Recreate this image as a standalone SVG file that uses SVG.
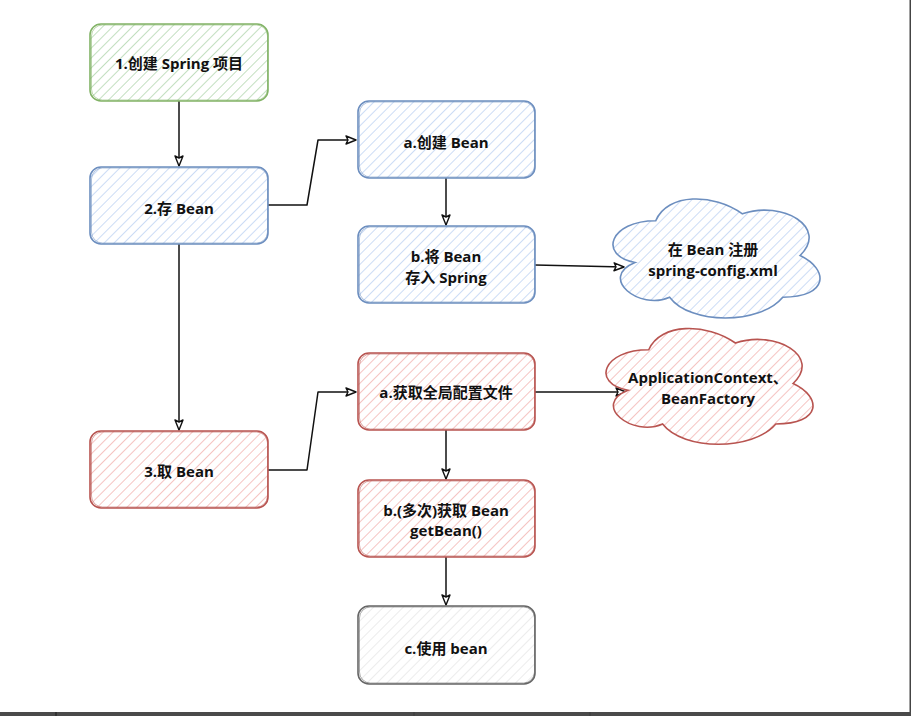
<svg xmlns="http://www.w3.org/2000/svg" width="911" height="716" viewBox="0 0 911 716">
<style>
.t{font-family:"Open Sans","Noto Sans CJK SC",sans-serif;font-weight:bold;font-size:15px;fill:#111;text-anchor:middle}
.box{stroke-width:1.6}
.g{stroke:#82b366;fill:url(#hg)}
.b{stroke:#6c8ebf;fill:url(#hb)}
.r{stroke:#b85450;fill:url(#hr)}
.k{stroke:#666666;fill:url(#hk)}
.ol{fill:none;stroke-width:1;opacity:.55}
.c{fill:none;stroke:#111;stroke-width:1.5;stroke-linejoin:round;marker-end:url(#arr)}
</style>
<defs>
<pattern id="hg" width="7" height="7" patternUnits="userSpaceOnUse" patternTransform="rotate(45)"><rect width="7" height="7" fill="#fff"/><line x1="0" y1="0" x2="0" y2="7" stroke="#c3dfc0" stroke-width="2"/></pattern>
<pattern id="hb" width="7" height="7" patternUnits="userSpaceOnUse" patternTransform="rotate(45)"><rect width="7" height="7" fill="#fff"/><line x1="0" y1="0" x2="0" y2="7" stroke="#ccdcf5" stroke-width="2"/></pattern>
<pattern id="hr" width="7" height="7" patternUnits="userSpaceOnUse" patternTransform="rotate(45)"><rect width="7" height="7" fill="#fff"/><line x1="0" y1="0" x2="0" y2="7" stroke="#f5c4c2" stroke-width="2"/></pattern>
<pattern id="hk" width="7" height="7" patternUnits="userSpaceOnUse" patternTransform="rotate(45)"><rect width="7" height="7" fill="#fff"/><line x1="0" y1="0" x2="0" y2="7" stroke="#ececec" stroke-width="2"/></pattern>
<marker id="arr" viewBox="0 0 12 10" refX="11" refY="5" markerWidth="12" markerHeight="10" markerUnits="userSpaceOnUse" orient="auto">
<path d="M1,1 L11,5 L1,9 L3,5 Z" fill="#fff" stroke="#111" stroke-width="1.4" stroke-linejoin="round"/>
</marker>
</defs>
<rect width="911" height="716" fill="#fff"/>

<g id="connectors">
<path class="c" d="M179,101 L179,166"/>
<path class="c" d="M268,205 L307,205 L318,140 L356,140"/>
<path class="c" d="M446,178 L446,225"/>
<path class="c" d="M535,265 L624,267"/>
<path class="c" d="M179,244 L179,430"/>
<path class="c" d="M268,470 L307,470 L318,392 L356,392"/>
<path class="c" d="M535,392 L626,392"/>
<path class="c" d="M446,430 L446,479"/>
<path class="c" d="M446,557 L446,605"/>
</g>

<g id="n1">
<rect class="box g" x="90" y="24" width="178" height="77" rx="11"/>
<rect class="ol" stroke="#82b366" x="91.5" y="25" width="176" height="75" rx="11"/>
<text class="t" x="179" y="69">1.创建 Spring 项目</text>
</g>
<g id="n2">
<rect class="box b" x="90" y="167" width="178" height="77" rx="11"/>
<rect class="ol" stroke="#6c8ebf" x="91.5" y="168" width="176" height="75" rx="11"/>
<text class="t" x="179" y="214">2.存 Bean</text>
</g>
<g id="n2a">
<rect class="box b" x="358" y="101" width="177" height="77" rx="11"/>
<rect class="ol" stroke="#6c8ebf" x="359.5" y="102" width="175" height="75" rx="11"/>
<text class="t" x="446" y="148">a.创建 Bean</text>
</g>
<g id="n2b">
<rect class="box b" x="358" y="226" width="177" height="77" rx="11"/>
<rect class="ol" stroke="#6c8ebf" x="359.5" y="227" width="175" height="75" rx="11"/>
<text class="t" x="446" y="262.25">b.将 Bean</text>
<text class="t" x="446" y="282.75">存入 Spring</text>
</g>
<g id="cloud1">
<path class="box b" d="M655.75,220.75 C609.55,220.75 598,255.5 634.96,262.45 C598,277.74 639.58,311.1 669.61,297.2 C690.4,325 759.7,325 782.8,297.2 C829,297.2 829,269.4 800.1,255.5 C829,227.7 782.8,199.9 742.4,213.8 C713.5,192.95 667.3,192.95 655.75,220.75 Z"/>
<text class="t" x="713" y="255.25">在 Bean 注册</text>
<text class="t" x="713" y="275.75">spring-config.xml</text>
</g>
<g id="n3">
<rect class="box r" x="90" y="431" width="178" height="77" rx="11"/>
<rect class="ol" stroke="#b85450" x="91.5" y="432" width="176" height="75" rx="11"/>
<text class="t" x="179" y="477">3.取 Bean</text>
</g>
<g id="n3a">
<rect class="box r" x="358" y="353" width="177" height="77" rx="11"/>
<rect class="ol" stroke="#b85450" x="359.5" y="354" width="175" height="75" rx="11"/>
<text class="t" x="446" y="398">a.获取全局配置文件</text>
</g>
<g id="cloud2">
<path class="box r" d="M648.75,349.75 C602.55,349.75 591,383.5 627.96,390.25 C591,405.1 632.58,437.5 662.61,424 C683.4,451 752.7,451 775.8,424 C822,424 822,397 793.1,383.5 C822,356.5 775.8,329.5 735.4,343 C706.5,322.75 660.3,322.75 648.75,349.75 Z"/>
<text class="t" x="708" y="383.25">ApplicationContext、</text>
<text class="t" x="708" y="403.75">BeanFactory</text>
</g>
<g id="n3b">
<rect class="box r" x="358" y="480" width="177" height="77" rx="11"/>
<rect class="ol" stroke="#b85450" x="359.5" y="481" width="175" height="75" rx="11"/>
<text class="t" x="446" y="515.75">b.(多次)获取 Bean</text>
<text class="t" x="446" y="536.25">getBean()</text>
</g>
<g id="n3c">
<rect class="box k" x="358" y="606" width="177" height="78" rx="11"/>
<rect class="ol" stroke="#666666" x="359.5" y="607" width="175" height="76" rx="11"/>
<text class="t" x="446" y="654">c.使用 bean</text>
</g>

<rect x="909.5" y="0" width="1.5" height="712" fill="#444"/>
<rect x="0" y="712" width="911" height="4" fill="#4a4a4a"/>
<rect x="55.5" y="712" width="1" height="4" fill="#1a1a1a"/>
<rect x="413.5" y="712" width="1" height="4" fill="#3a3a3a"/>
<rect x="589.5" y="712" width="1" height="4" fill="#3a3a3a"/>
</svg>
